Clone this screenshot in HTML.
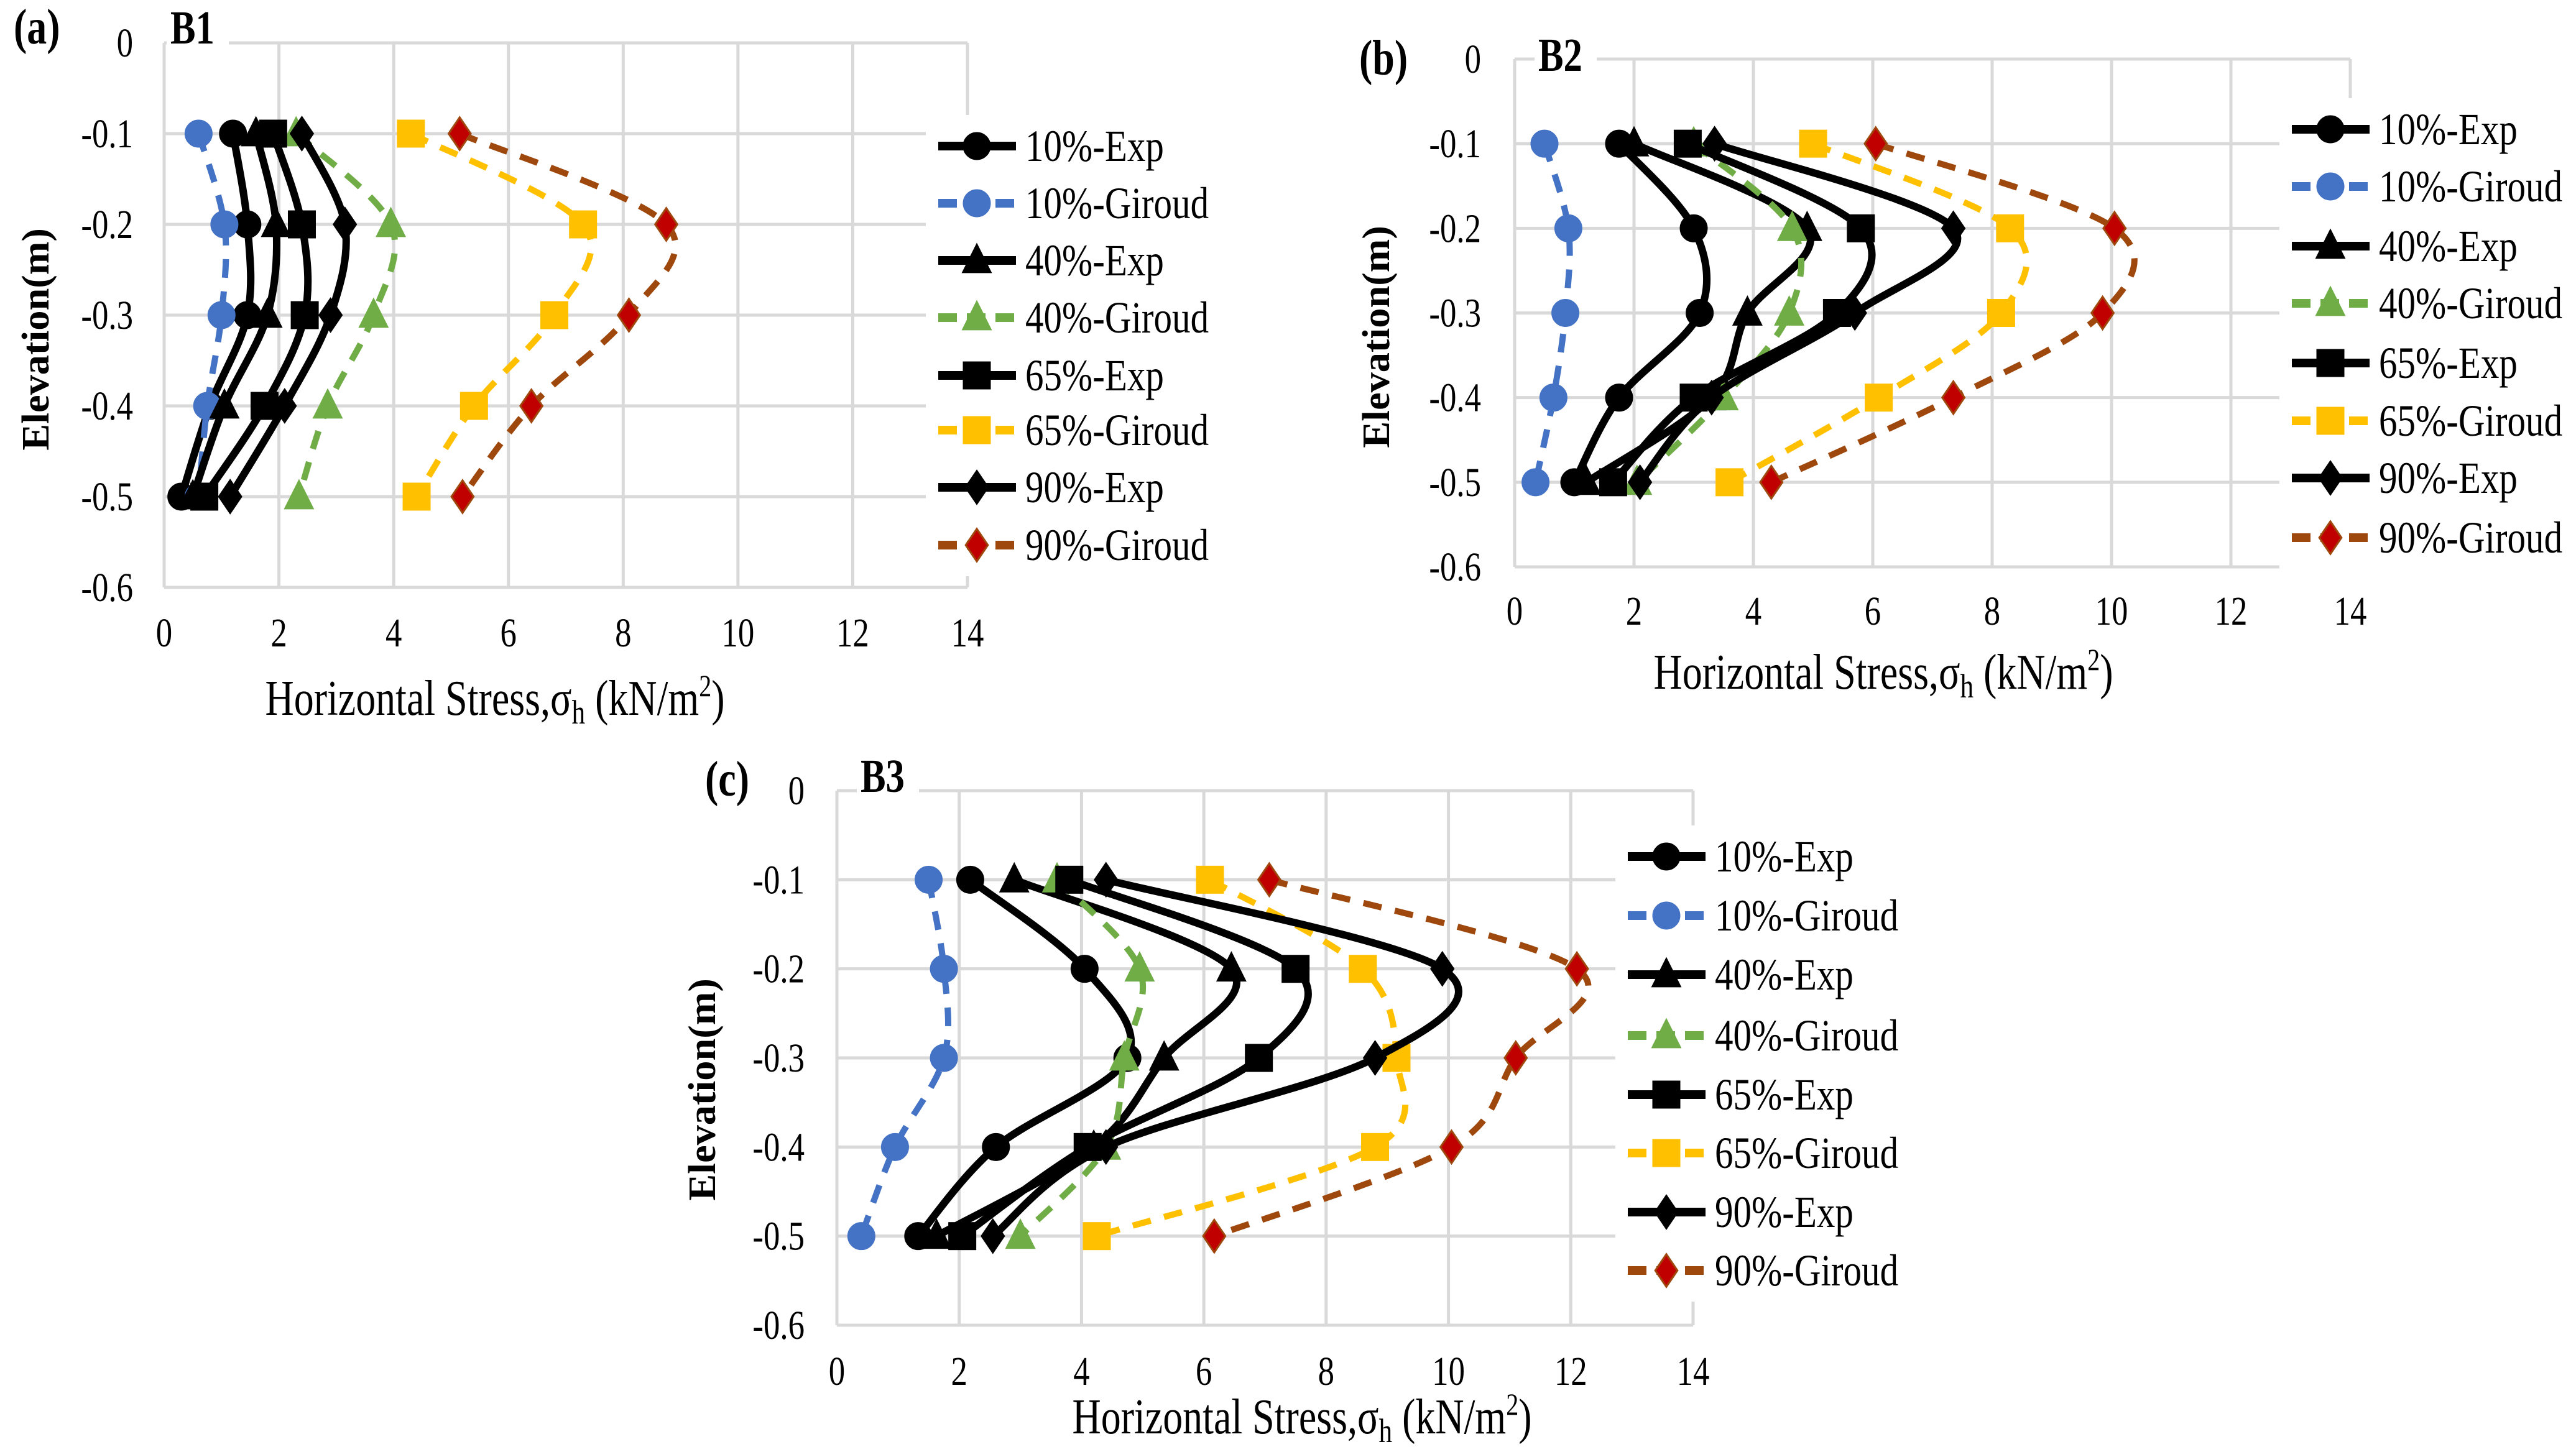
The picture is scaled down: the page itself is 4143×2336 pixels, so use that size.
<!DOCTYPE html>
<html><head><meta charset="utf-8"><style>
html,body{margin:0;padding:0;background:#fff;}
svg{display:block;font-family:"Liberation Serif",serif;}
</style></head><body>
<svg id="chart" width="4143" height="2336" viewBox="0 0 4143 2336" xmlns="http://www.w3.org/2000/svg"></svg>
<script>
const elevations = [-0.1,-0.2,-0.3,-0.4,-0.5];
const seriesNames = ["10%-Exp","10%-Giroud","40%-Exp","40%-Giroud","65%-Exp","65%-Giroud","90%-Exp","90%-Giroud"];
const xTicks = [0,2,4,6,8,10,12,14];
const yTicks = [0,-0.1,-0.2,-0.3,-0.4,-0.5,-0.6];
const yTickLabels = ["0","-0.1","-0.2","-0.3","-0.4","-0.5","-0.6"];
// Panel a (B1)
const b1_10exp = [1.2,1.45,1.45,0.8,0.3];
const b1_10gir = [0.6,1.05,1.0,0.75,0.6];
const b1_40exp = [1.6,1.95,1.8,1.05,0.5];
const b1_40gir = [2.3,3.95,3.65,2.85,2.35];
const b1_65exp = [1.9,2.4,2.45,1.75,0.7];
const b1_65gir = [4.3,7.3,6.8,5.4,4.4];
const b1_90exp = [2.4,3.15,2.9,2.1,1.15];
const b1_90gir = [5.15,8.75,8.1,6.4,5.2];
// Panel b (B2)
const b2_10exp = [1.75,3.0,3.1,1.75,1.0];
const b2_10gir = [0.5,0.9,0.85,0.65,0.35];
const b2_40exp = [2.0,4.9,3.9,3.3,1.2];
const b2_40gir = [3.0,4.65,4.6,3.5,2.05];
const b2_65exp = [2.9,5.8,5.4,3.0,1.65];
const b2_65gir = [5.0,8.3,8.15,6.1,3.6];
const b2_90exp = [3.35,7.35,5.7,3.3,2.1];
const b2_90gir = [6.05,10.05,9.85,7.35,4.3];
// Panel c (B3)
const b3_10exp = [2.18,4.05,4.75,2.6,1.33];
const b3_10gir = [1.5,1.75,1.75,0.95,0.4];
const b3_40exp = [2.9,6.45,5.35,4.2,1.63];
const b3_40gir = [3.6,4.95,4.7,4.4,3.0];
const b3_65exp = [3.8,7.5,6.9,4.1,2.05];
const b3_65gir = [6.1,8.6,9.15,8.8,4.25];
const b3_90exp = [4.4,9.9,8.8,4.4,2.55];
const b3_90gir = [7.07,12.1,11.1,10.05,6.17];

const NS="http://www.w3.org/2000/svg";
const svg=document.getElementById('chart');
function mk(tag,attrs,parent,text){const e=document.createElementNS(NS,tag);for(const k in attrs)e.setAttribute(k,attrs[k]);if(text!==undefined)e.textContent=text;(parent||svg).appendChild(e);return e;}
function txt(parent,x,y,size,anchor,str,sx,extra){
 const e=mk('text',Object.assign({x:0,y:0,"font-size":size,"text-anchor":anchor,transform:`translate(${x},${y}) scale(${sx},1)`},extra||{}),parent,str);
 return e;
}
const styles=[
 {c:"#000",dash:null,m:"circle",fill:"#000",stroke:"#000"},
 {c:"#4472C4",dash:"30 22",m:"circle",fill:"#4472C4",stroke:"#4472C4"},
 {c:"#000",dash:null,m:"tri",fill:"#000",stroke:"#000"},
 {c:"#70AD47",dash:"30 22",m:"tri",fill:"#70AD47",stroke:"#70AD47"},
 {c:"#000",dash:null,m:"sq",fill:"#000",stroke:"#000"},
 {c:"#FFC000",dash:"30 22",m:"sq",fill:"#FFC000",stroke:"#FFC000"},
 {c:"#000",dash:null,m:"dia",fill:"#000",stroke:"#000"},
 {c:"#9E480E",dash:"30 22",m:"dia",fill:"#C00000",stroke:"#9E480E"}
];
function marker(g,type,x,y,st,s){
 let e;
 if(type==="circle")e=mk('circle',{cx:x,cy:y,r:s},g);
 else if(type==="sq")e=mk('rect',{x:x-s,y:y-s,width:2*s,height:2*s},g);
 else if(type==="tri")e=mk('polygon',{points:`${x},${y-s*1.2} ${x+s*1.05},${y+s*0.9} ${x-s*1.05},${y+s*0.9}`},g);
 else e=mk('polygon',{points:`${x},${y-s*1.25} ${x+s*0.85},${y} ${x},${y+s*1.25} ${x-s*0.85},${y}`},g);
 e.setAttribute('fill',st.fill);e.setAttribute('stroke',st.stroke);e.setAttribute('stroke-width',3);
 return e;
}
function smoothPath(pts){
 let d=`M${pts[0][0]},${pts[0][1]}`;
 for(let i=0;i<pts.length-1;i++){
  const p0=pts[i-1]||pts[i],p1=pts[i],p2=pts[i+1],p3=pts[i+2]||p2;
  const c1=[p1[0]+(p2[0]-p0[0])/6,p1[1]+(p2[1]-p0[1])/6];
  const c2=[p2[0]-(p3[0]-p1[0])/6,p2[1]-(p3[1]-p1[1])/6];
  d+=` C${c1[0]},${c1[1]} ${c2[0]},${c2[1]} ${p2[0]},${p2[1]}`;
 }
 return d;
}
function panel(cfg){
 const g=mk('g',{});
 
 
 const sx=v=>cfg.x0+(cfg.x14-cfg.x0)*v/14;
 const sy=v=>cfg.y0+(cfg.y6-cfg.y0)*(-v)/0.6;
 xTicks.forEach(t=>{const l=mk('line',{x1:sx(t),x2:sx(t),y1:sy(0),y2:sy(-0.6),stroke:"#d9d9d9","stroke-width":5},g);
  });
 yTicks.forEach(t=>{const l=mk('line',{x1:sx(0),x2:sx(14),y1:sy(t),y2:sy(t),stroke:"#d9d9d9","stroke-width":5},g);
  });
 xTicks.forEach(t=>{const e=txt(g,sx(t),cfg.xlabY,66,"middle",String(t),0.8);
  });
 yTicks.forEach((t,i)=>{const e=txt(g,cfg.ylabX,sy(t)+22,66,"end",yTickLabels[i],0.8);
  });
 const lb=mk('rect',{x:cfg.legX-20,y:cfg.legY[0]-50,width:560,height:cfg.legY[7]-cfg.legY[0]+100,fill:"#fff"},g);
 
 const pl=txt(g,cfg.pl[0],cfg.pl[1],80,"start",cfg.plabel,0.8,{"font-weight":"bold"});
 
 const bb=mk('rect',{x:cfg.bl[0]-6,y:cfg.bl[1]-62,width:100,height:74,fill:"#fff"},g);
 
 const bl=txt(g,cfg.bl[0],cfg.bl[1],76,"start",cfg.btitle,0.8,{"font-weight":"bold"});
 
 const xt=txt(g,cfg.xt[0]-20,cfg.xt[1],80,"middle","Horizontal Stress,σ",0.8);
 
 mk('tspan',{"font-size":54,dy:14},xt,"h");
 mk('tspan',{dy:-14},xt," (kN/m");
 mk('tspan',{"font-size":50,dy:-30},xt,"2");
 mk('tspan',{dy:30},xt,")");
 const yt=mk('text',{x:0,y:0,"font-size":74,"text-anchor":"middle","font-weight":"bold",transform:`translate(${cfg.yt[0]},${cfg.yt[1]}) rotate(-90) scale(0.87,0.85)`},g,"Elevation(m)");
 
 cfg.data.forEach((vals,si)=>{
  const st=styles[si];
  const sg=mk('g',{},g);
  
  
  const pts=vals.map((v,i)=>[sx(v),sy(elevations[i])]);
  const p=mk('path',{d:smoothPath(pts),fill:"none",stroke:st.c,"stroke-width":st.dash?10:12,"stroke-linecap":st.dash?"butt":"round"},sg);
  if(st.dash)p.setAttribute('stroke-dasharray',st.dash);
  
  pts.forEach(q=>{const m=marker(sg,st.m,q[0],q[1],st,21);
   });
  const lg=mk('g',{},g);
  
  const ly=cfg.legY[si];
  const ll=mk('line',{x1:cfg.legX,x2:cfg.legX+125,y1:ly,y2:ly,stroke:st.c,"stroke-width":14},lg);
  if(st.dash)ll.setAttribute('stroke-dasharray',"30 16");
  marker(lg,st.m,cfg.legX+62,ly,st,21);
  txt(lg,cfg.legX+140,ly+24,72,"start",seriesNames[si],0.82);
 });
}
panel({name:'panel-a-b1',plabel:'(a)',btitle:'B1',x0:264,x14:1556,y0:69,y6:945,ylabX:214,xlabY:1040,
 legX:1509,legY:[235,327,419,511,604,692,784,877],pl:[22,70],bl:[274,70],xt:[816,1150],yt:[78,546],
 data:[b1_10exp,b1_10gir,b1_40exp,b1_40gir,b1_65exp,b1_65gir,b1_90exp,b1_90gir]});
panel({name:'panel-b-b2',plabel:'(b)',btitle:'B2',x0:2436,x14:3780,y0:95,y6:912,ylabX:2382,xlabY:1005,
 legX:3686,legY:[208,300,396,488,584,677,769,865],pl:[2186,120],bl:[2474,114],xt:[3049,1108],yt:[2234,542],
 data:[b2_10exp,b2_10gir,b2_40exp,b2_40gir,b2_65exp,b2_65gir,b2_90exp,b2_90gir]});
panel({name:'panel-c-b3',plabel:'(c)',btitle:'B3',x0:1346,x14:2723,y0:1272,y6:2132,ylabX:1294,xlabY:2228,
 legX:2618,legY:[1378,1473,1568,1666,1761,1855,1950,2044],pl:[1134,1280],bl:[1384,1274],xt:[2114,2306],yt:[1150,1753],
 data:[b3_10exp,b3_10gir,b3_40exp,b3_40gir,b3_65exp,b3_65gir,b3_90exp,b3_90gir]});
</script>
</body></html>
